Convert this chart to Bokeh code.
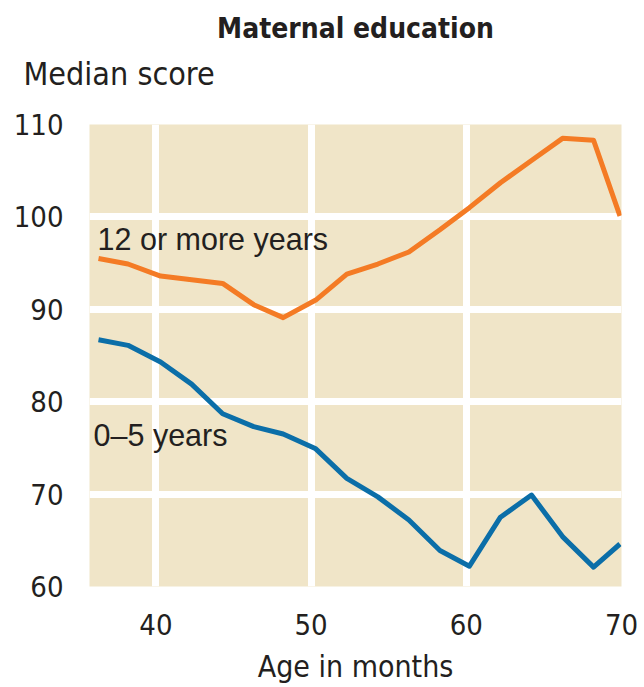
from bokeh.plotting import figure
from bokeh.models import Label, FixedTicker, Range1d, Title
from bokeh.embed import file_html
from bokeh.resources import INLINE

# ---- data ----
ages = [36.3, 38.2, 40.3, 42.3, 44.3, 46.3, 48.2, 50.3, 52.3, 54.3, 56.3, 58.3,
        60.2, 62.2, 64.2, 66.2, 68.2, 69.9]
score_12plus = [95.5, 94.9, 93.6, 93.2, 92.8, 90.5, 89.1, 91.0, 93.8, 94.9, 96.2, 98.6,
                101.0, 103.7, 106.1, 108.5, 108.3, 100.1]
score_0to5 = [86.7, 86.1, 84.3, 81.9, 78.7, 77.3, 76.5, 74.9, 71.7, 69.7, 67.2, 63.9,
              62.2, 67.5, 69.9, 65.4, 62.1, 64.6]
x_ticks = [40, 50, 60, 70]
y_ticks = [60, 70, 80, 90, 100, 110]
title_text = "Maternal education"
y_title = "Median score"
x_title = "Age in months"
label_12 = "12 or more years"
label_05 = "0\u20135 years"

NARROW = "DejaVu Sans Condensed, Liberation Sans Narrow, Roboto Condensed, Roboto"
TXT = "#231f20"
BEIGE = "#f0e5c8"
ORANGE = "#f47b25"
BLUE = "#0b6ea8"

p = figure(width=644, height=687, output_backend="svg", toolbar_location=None,
           x_range=Range1d(35.72, 70.0), y_range=Range1d(60, 110),
           min_border_left=89, min_border_right=23, min_border_top=124,
           min_border_bottom=101, title=None)
p.outline_line_color = None
p.background_fill_color = BEIGE
p.border_fill_color = "white"

# grid
p.xgrid.ticker = FixedTicker(ticks=[40, 50, 60])
p.ygrid.ticker = FixedTicker(ticks=y_ticks)
for g in (p.xgrid, p.ygrid):
    g.grid_line_color = "white"
    g.grid_line_width = 7
    g.grid_line_alpha = 1.0

# axes
p.xaxis.ticker = FixedTicker(ticks=x_ticks)
p.yaxis.ticker = FixedTicker(ticks=y_ticks)
for ax in (p.xaxis, p.yaxis):
    ax.axis_line_color = None
    ax.major_tick_line_color = None
    ax.minor_tick_line_color = None
    ax.major_tick_out = 0
    ax.major_tick_in = 0
    ax.major_label_text_font = NARROW
    ax.major_label_text_font_size = "29px"
    ax.major_label_text_color = TXT
p.yaxis.major_label_standoff = 26
p.xaxis.major_label_standoff = 27
p.xaxis.major_label_text_line_height = 0.7
p.xaxis.axis_label = x_title
p.xaxis.axis_label_text_font = NARROW
p.xaxis.axis_label_text_font_size = "30px"
p.xaxis.axis_label_text_font_style = "normal"
p.xaxis.axis_label_text_color = TXT
p.xaxis.axis_label_text_line_height = 0.7
p.xaxis.axis_label_standoff = 11

# lines
p.line(ages, score_12plus, line_color=ORANGE, line_width=5, line_join="round")
p.line(ages, score_0to5, line_color=BLUE, line_width=5, line_join="round")

# series labels
p.add_layout(Label(x=36.24, y=97.6, text=label_12, text_font="Liberation Sans",
                   text_font_size="30.5px", text_color=TXT, text_baseline="alphabetic"))
p.add_layout(Label(x=35.98, y=76.4, text=label_05, text_font="Liberation Sans",
                   text_font_size="30.5px", text_color=TXT, text_baseline="alphabetic"))

# titles stacked above the frame: spacer, y title, main title
p.add_layout(Title(text=" ", text_font_size="1px", standoff=29), "above")
p.add_layout(Title(text=y_title, align="left", offset=-66, standoff=0,
                   text_font=NARROW, text_font_size="32px", text_font_style="normal",
                   text_color=TXT), "above")
p.add_layout(Title(text=title_text, align="center", offset=-7, standoff=15,
                   text_font=NARROW, text_font_size="28px", text_font_style="bold",
                   text_color=TXT), "above")

open("out.html", "w").write(file_html(p, INLINE))
